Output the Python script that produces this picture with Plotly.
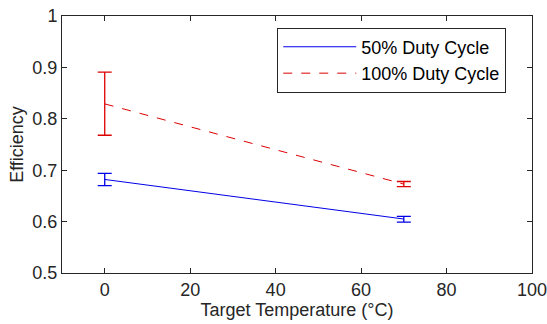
import plotly.graph_objects as go

temps = [0, 70]
eff_50 = [0.682, 0.605]
err_50_plus = [0.012, 0.005]
err_50_minus = [0.012, 0.006]
eff_100 = [0.829, 0.673]
err_100_plus = [0.062, 0.005]
err_100_minus = [0.061, 0.005]

x_ticks = [0, 20, 40, 60, 80, 100]
y_ticks = [0.5, 0.6, 0.7, 0.8, 0.9, 1.0]
y_tick_labels = ["0.5", "0.6", "0.7", "0.8", "0.9", "1"]

font = "Liberation Sans, Arial, Helvetica, sans-serif"
axcol = "#262626"
fs = 18

fig = go.Figure()
fig.add_trace(go.Scatter(
    x=temps, y=eff_50, mode="lines", name="50% Duty Cycle",
    line=dict(color="#0000e6", width=1),
    error_y=dict(type="data", symmetric=False, array=err_50_plus, arrayminus=err_50_minus,
                 color="#0000e6", thickness=1.3, width=7),
))
fig.add_trace(go.Scatter(
    x=temps, y=eff_100, mode="lines", name="100% Duty Cycle",
    line=dict(color="#dd0000", width=1, dash="dash"),
    error_y=dict(type="data", symmetric=False, array=err_100_plus, arrayminus=err_100_minus,
                 color="#dd0000", thickness=1.3, width=7),
))

axis_common = dict(
    showgrid=False, zeroline=False, showline=True, linecolor=axcol, linewidth=1,
    mirror="ticks", ticks="inside", ticklen=5, tickcolor=axcol, tickwidth=1,
    tickfont=dict(family=font, size=fs, color=axcol), automargin=False,
    ticklabeloverflow="allow",
)
fig.update_layout(
    width=547, height=324,
    margin=dict(l=62, r=15, t=16, b=51, autoexpand=False),
    paper_bgcolor="white", plot_bgcolor="white",
    font=dict(family=font, size=fs, color=axcol),
    xaxis=dict(range=[-10, 100], tickvals=x_ticks,
               title=dict(text="Target Temperature (°C)", font=dict(family=font, size=fs, color=axcol), standoff=3),
               **axis_common),
    yaxis=dict(range=[0.5, 1.0], tickvals=y_ticks, ticktext=y_tick_labels,
               title=dict(text="Efficiency", font=dict(family=font, size=fs, color=axcol), standoff=4),
               **axis_common),
    legend=dict(x=0.458, y=0.955, xanchor="left", yanchor="top",
                bordercolor=axcol, borderwidth=1, bgcolor="white",
                font=dict(family=font, size=fs, color="black"),
                itemwidth=73, tracegroupgap=0),
    showlegend=True,
)
fig.write_html("out.html", config={"displayModeBar": False},
               post_script="document.body.style.margin='0';")
